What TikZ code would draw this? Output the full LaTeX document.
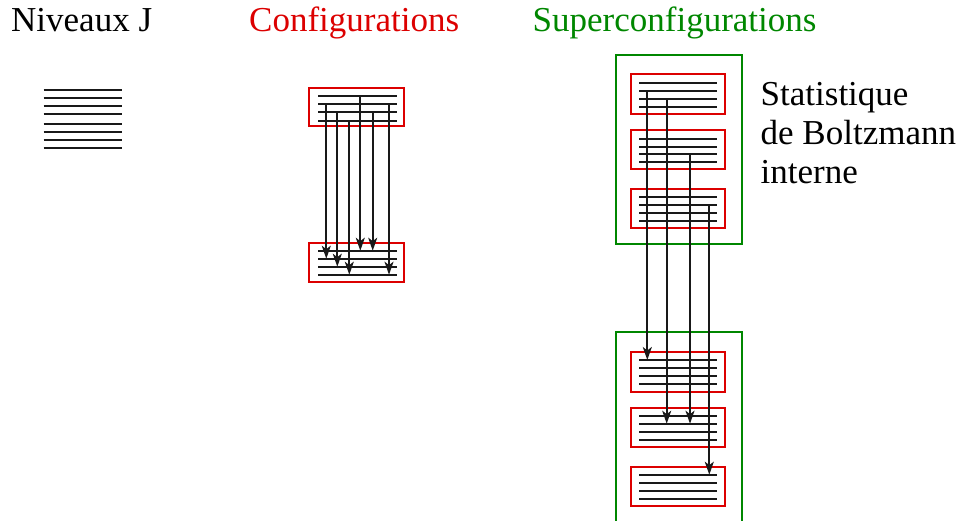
\documentclass[tikz,border=0pt]{standalone}
\usepackage{fontspec}
\setmainfont{Liberation Serif}
\usetikzlibrary{arrows.meta}
\definecolor{cfgred}{RGB}{220,0,0}
\definecolor{scgreen}{RGB}{0,135,0}
\tikzset{
  lvl/.style={line width=2pt, black!90},
  cfgbox/.style={draw=cfgred, line width=1.9pt},
  scbox/.style={draw=scgreen, line width=1.9pt},
  trans/.style={line width=1.9pt, black!90, -{Stealth[length=13pt,width=9pt,inset=3.5pt]}},
  title/.style={anchor=base west, inner sep=0pt, font=\fontsize{35}{40}\selectfont},
}
\begin{document}
\begin{tikzpicture}[x=1pt,y=-1pt]
\useasboundingbox (0,0) rectangle (961,521);

% titles
\node[title] (tJ) at (11,31.7) {Niveaux J};
\node[title, text=cfgred] (tC) at (249,32) {Configurations};
\node[title, text=scgreen] (tS) at (532.5,32) {Superconfigurations};
\node[title] (st1) at (760.5,106) {Statistique};
\node[title] (st2) at (760.5,145) {de Boltzmann};
\node[title] (st3) at (760.5,183.5) {interne};

% Niveaux J
\foreach \y [count=\i] in {90.3,98.3,106.3,114.3,123.7,131.7,139.7,148} {
  \coordinate (jL\i) at (43.5,\y);
  \coordinate (jR\i) at (121.5,\y);
  \draw[lvl] (jL\i) -- (jR\i);
}

% Configurations: boxes
\node[cfgbox, inner sep=0pt, minimum width=94.7pt, minimum height=37.4pt] (cA) at (356.65,107) {};
\node[cfgbox, inner sep=0pt, minimum width=94.7pt, minimum height=39.6pt] (cB) at (356.65,262.5) {};
\foreach \y [count=\i] in {96,104.2,112.4,120.6} {
  \coordinate (cAL\i) at (318.3,\y);
  \coordinate (cAR\i) at (396.7,\y);
  \draw[lvl] (cAL\i) -- (cAR\i);
}
\foreach \y [count=\i] in {250.7,258.7,266.7,274.7} {
  \coordinate (cBL\i) at (318.3,\y);
  \coordinate (cBR\i) at (396.7,\y);
  \draw[lvl] (cBL\i) -- (cBR\i);
}
% configuration transitions: x, start y, end y
\foreach \x/\s/\e [count=\k] in {326.3/104.2/258.7, 337.3/112.4/266.7, 349.3/120.6/274.7,
                                 360.3/96/250.7, 372.7/112.4/250.7, 389/104.2/274.7} {
  \coordinate (ca\k) at (\x,\s);
  \coordinate (cb\k) at (\x,\e);
  \draw[trans] (ca\k) -- (cb\k);
}

% Superconfigurations: green boxes
\node[scbox, inner sep=0pt, minimum width=126pt, minimum height=189.3pt] (sA) at (678.7,149.65) {};
\node[scbox, inner sep=0pt, minimum width=126pt, minimum height=200pt] (sB) at (678.7,432.3) {};
% red boxes inside
\foreach \t/\b [count=\i] in {74.3/114, 130.3/169.3, 188.7/228.3, 352.3/391.7, 407.7/447, 466.7/506} {
  \node[cfgbox, inner sep=0pt, minimum width=94.6pt, minimum height={\b-\t}] (r\i) at (678,{(\t+\b)/2}) {};
}
\foreach \y [count=\i] in {82.7,90.7,99,107, 138.7,146.7,154.3,162.3, 197,205,213,221,
                           360,368,376,384.3, 415.7,423.7,431.7,439.7, 474.7,482.7,490.7,498.7} {
  \coordinate (sL\i) at (639.3,\y);
  \coordinate (sR\i) at (717.3,\y);
  \draw[lvl] (sL\i) -- (sR\i);
}
% superconfiguration transitions: x, start y, end y
\foreach \x/\s/\e [count=\k] in {647.3/90.7/360, 666.7/99/423.7, 690/154.3/423.7, 709.3/205/474.7} {
  \coordinate (sa\k) at (\x,\s);
  \coordinate (sb\k) at (\x,\e);
  \draw[trans] (sa\k) -- (sb\k);
}
\end{tikzpicture}
\end{document}
